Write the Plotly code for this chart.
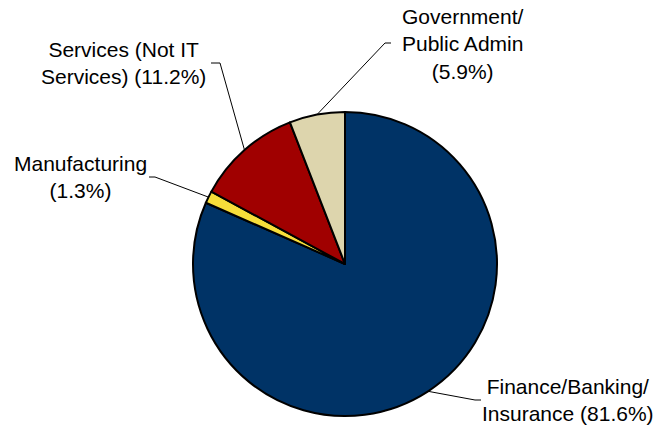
import math
import plotly.graph_objects as go

# Data
categories = ["Finance/Banking/<br>Insurance", "Manufacturing", "Services (Not IT<br>Services)", "Government/<br>Public Admin"]
values = [81.6, 1.3, 11.2, 5.9]
label_text = ["Finance/Banking/<br>Insurance (81.6%)", "Manufacturing<br>(1.3%)",
              "Services (Not IT<br>Services) (11.2%)", "Government/<br>Public Admin<br>(5.9%)"]
colors = ["#003366", "#F7DE3A", "#A00000", "#DDD5AD"]

W, H = 657, 427
cx, cy, R = 345, 264, 152

# label layout (pixel): text centre, elbow point, line end
label_pos = [(568, 400), (80, 177), (123, 63), (463, 44)]
elbow = [(475, 400), (155, 177), (220, 63), (385, 43)]
line_end = [(481, 400), (149, 177), (211, 63), (391, 43)]

fig = go.Figure(go.Pie(
    labels=categories, values=values, sort=False, direction="clockwise", rotation=0,
    marker=dict(colors=colors, line=dict(color="black", width=2)),
    textinfo="none", hoverinfo="label+percent", showlegend=False,
    domain=dict(x=[(cx - R) / W, (cx + R) / W], y=[(H - cy - R) / H, (H - cy + R) / H]),
))

def px(x, y):
    return x / W, 1 - y / H

shapes = []
annotations = []
total = sum(values)
cum = 0
for i, v in enumerate(values):
    mid = (cum + v / 2) / total * 2 * math.pi
    cum += v
    sx = cx + R * math.sin(mid)
    sy = cy - R * math.cos(mid)
    pts = [(sx, sy), elbow[i], line_end[i]]
    for (x0, y0), (x1, y1) in zip(pts[:-1], pts[1:]):
        a0 = px(x0, y0); a1 = px(x1, y1)
        shapes.append(dict(type="line", xref="paper", yref="paper",
                           x0=a0[0], y0=a0[1], x1=a1[0], y1=a1[1],
                           line=dict(color="black", width=1)))
    tx, ty = px(*label_pos[i])
    annotations.append(dict(x=tx, y=ty, xref="paper", yref="paper", text=label_text[i],
                            showarrow=False, xanchor="center", yanchor="middle", align="center",
                            font=dict(family="Liberation Sans, Arial, sans-serif", size=21, color="black")))

fig.update_layout(width=W, height=H, margin=dict(l=0, r=0, t=0, b=0),
                  paper_bgcolor="white", plot_bgcolor="white",
                  shapes=shapes, annotations=annotations)
fig.write_html("out.html")
